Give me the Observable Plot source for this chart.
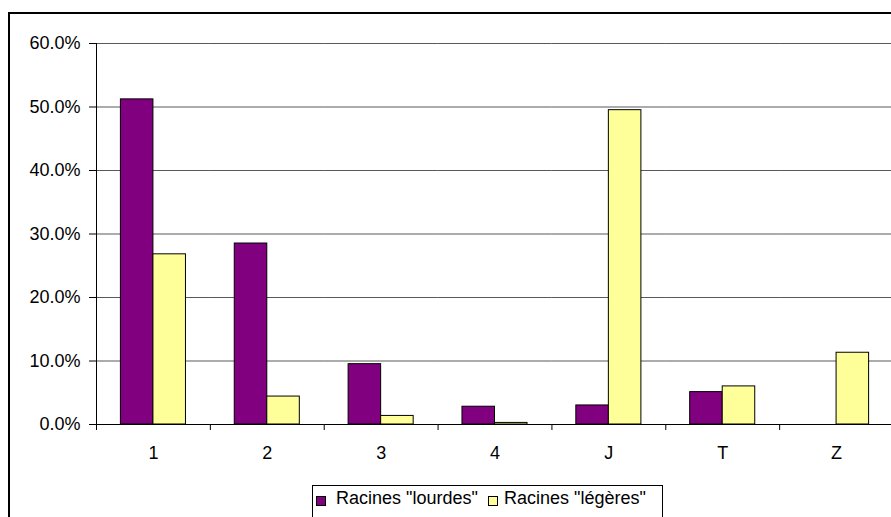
<!DOCTYPE html>
<html><head><meta charset="utf-8">
<script src="https://cdn.jsdelivr.net/npm/d3@7"></script>
<script src="https://cdn.jsdelivr.net/npm/@observablehq/plot@0.6"></script>
<style>
body{margin:0;background:#fff;overflow:hidden}
#wrap{position:relative;width:891px;height:517px;overflow:hidden;background:#fff;font-family:"Liberation Sans",Arial,sans-serif}
#frame{position:absolute;left:8px;top:12px;width:920px;height:540px;border:2px solid #000;box-sizing:border-box}
#chart{position:absolute;left:0;top:0;width:900px}
#chart svg{max-width:none}
#legend{position:absolute;left:312px;top:485px;width:351px;height:50px;border:1px solid #000;box-sizing:border-box;background:#fff}
.sw{position:absolute;width:10px;height:10px;border:1px solid #000;box-sizing:border-box}
.lt{position:absolute;font-size:18px;line-height:20px;white-space:nowrap;color:#000}
</style></head><body>
<div id="wrap"><div id="frame"></div><div id="chart"></div><div id="legend"></div></div>
<script>
const categories = ["1", "2", "3", "4", "J", "T", "Z"];
const seriesNames = ['Racines "lourdes"', 'Racines "légères"'];
const lourdes = [51.2, 28.5, 9.5, 2.8, 3.0, 5.1, 0];
const legeres = [26.8, 4.4, 1.35, 0.25, 49.5, 6.0, 11.3];
const yTicks = [0, 10, 20, 30, 40, 50, 60];
const seriesColors = ["#800080", "#FFFF99"];

const data = categories.flatMap((c, i) => [
  {cat: c, series: seriesNames[0], value: lourdes[i] / 100},
  {cat: c, series: seriesNames[1], value: legeres[i] / 100}
]);
const tickVals = yTicks.map(v => v / 100);

const W = 900, H = 470, ML = 96, MR = 7, MT = 43, MB = 46;
const step = (W - ML - MR) / categories.length;

const svg = Plot.plot({
  width: W, height: H,
  marginLeft: ML, marginRight: MR, marginTop: MT, marginBottom: MB,
  style: {fontFamily: '"Liberation Sans", Arial, sans-serif', fontSize: "18px", color: "#000", background: "transparent", maxWidth: "none"},
  fx: {domain: categories, padding: 0, round: false, label: null, axis: null},
  x: {domain: seriesNames, paddingInner: 0, paddingOuter: 0.75, round: false, axis: null},
  y: {domain: [0, 0.6], axis: null},
  color: {domain: seriesNames, range: seriesColors},
  marks: [
    Plot.gridY(tickVals, {stroke: "#000", strokeOpacity: 0.65}),
    Plot.barY(data.filter(d => d.value > 0), {fx: "cat", x: "series", y: "value", fill: "series", stroke: "#000", strokeWidth: 1}),
    Plot.ruleY([0], {stroke: "#000"}),
    Plot.frame({anchor: "left", facet: "super", stroke: "#000"}),
    Plot.axisY(tickVals, {tickSize: 7, tickPadding: 9, tickFormat: d => (d * 100).toFixed(1) + "%", label: null, stroke: "#000", fontSize: 18}),
    Plot.axisFx({anchor: "bottom", tickSize: 0, tickPadding: 22, label: null, fontSize: 18}),
    Plot.axisFx({anchor: "bottom", tickSize: 6, tickFormat: () => "", label: null, dx: -step / 2, stroke: "#000"})
  ]
});
svg.style.maxWidth = "none";
document.getElementById("chart").appendChild(svg);

const legend = document.getElementById("legend");
const swLeft = [3, 175], txtLeft = [23, 191];
seriesNames.forEach((name, i) => {
  const sw = document.createElement("div");
  sw.className = "sw";
  sw.style.left = swLeft[i] + "px";
  sw.style.top = "10px";
  sw.style.background = seriesColors[i];
  legend.appendChild(sw);
  const t = document.createElement("div");
  t.className = "lt";
  t.style.left = txtLeft[i] + "px";
  t.style.top = "2px";
  t.textContent = name;
  legend.appendChild(t);
});
</script>
</body></html>
